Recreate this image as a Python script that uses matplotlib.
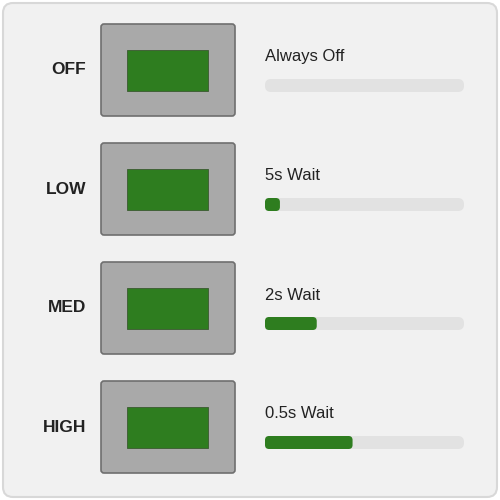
import matplotlib.pyplot as plt
from matplotlib.patches import FancyBboxPatch, Rectangle

levels = ["OFF", "LOW", "MED", "HIGH"]
wait_labels = ["Always Off", "5s Wait", "2s Wait", "0.5s Wait"]
progress = [0.0, 0.075, 0.26, 0.44]

GREEN = "#2e7d1f"
ROW_H = 119

fig = plt.figure(figsize=(5, 5), dpi=100)
ax = fig.add_axes([0, 0, 1, 1])
ax.set_xlim(0, 500)
ax.set_ylim(500, 0)
ax.axis("off")
fig.patch.set_facecolor("white")

# card background
ax.add_patch(FancyBboxPatch((3, 3), 494, 494, boxstyle="round,pad=0,rounding_size=10",
                            facecolor="#f1f1f1", edgecolor="#d8d8d8", linewidth=1.5))

for i, (lvl, lbl, frac) in enumerate(zip(levels, wait_labels, progress)):
    y0 = 24 + i * ROW_H
    ax.text(86, y0 + 46, lvl, ha="right", va="center", fontsize=12.5,
            fontweight="bold", color="#222222", family="Liberation Sans")
    # switch box
    ax.add_patch(FancyBboxPatch((101, y0), 134, 92, boxstyle="round,pad=0,rounding_size=3",
                                facecolor="#a9a9a9", edgecolor="#6f6f6f", linewidth=1.2))
    ax.add_patch(Rectangle((127, y0 + 26), 81, 41, facecolor=GREEN, edgecolor="#3a5a30", linewidth=0.6))
    # label and progress bar
    ax.text(265, y0 + 33, lbl, ha="left", va="center", fontsize=12,
            color="#222222", family="Liberation Sans")
    track_w = 199
    ax.add_patch(FancyBboxPatch((265, y0 + 55), track_w, 13, boxstyle="round,pad=0,rounding_size=6",
                                facecolor="#e2e2e2", edgecolor="none"))
    if frac > 0:
        ax.add_patch(FancyBboxPatch((265, y0 + 55), track_w * frac, 13,
                                    boxstyle="round,pad=0,rounding_size=4",
                                    facecolor=GREEN, edgecolor="none"))

fig.savefig("out.png", dpi=100)
